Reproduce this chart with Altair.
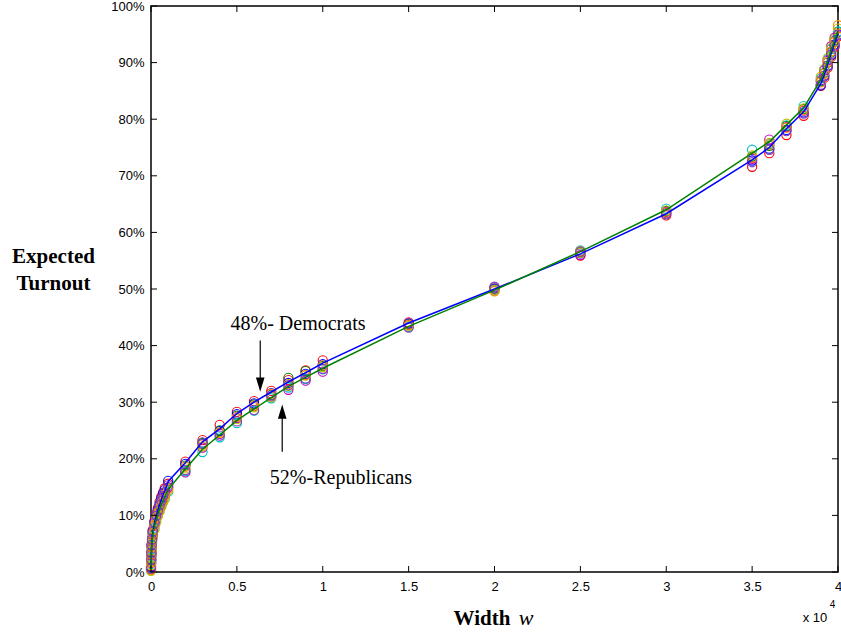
import altair as alt
import pandas as pd

# ---- data (width w in units of 10^4, turnout in %) ----
w_values = [0, 0.001, 0.002, 0.004, 0.006, 0.01, 0.02, 0.03, 0.04, 0.05, 0.06, 0.07, 0.08, 0.1,
            0.2, 0.3, 0.4, 0.5, 0.6, 0.7, 0.8, 0.9, 1.0, 1.5, 2.0, 2.5, 3.0, 3.5, 3.6, 3.7, 3.8,
            3.9, 3.92, 3.94, 3.96, 3.98, 4.0]
dem_turnout = [0.8, 2.0, 3.2, 4.6, 5.6, 7.0, 8.6, 9.8, 10.9, 11.9, 12.8, 13.6, 14.3, 16.0,
               19.3, 23.0, 25.3, 28.0, 30.0, 31.8, 33.6, 35.2, 36.9, 44.0, 50.0, 56.2, 63.3, 72.8,
               75.0, 78.3, 81.3, 86.3, 87.8, 89.7, 91.6, 93.4, 95.2]
rep_turnout = [0.6, 1.7, 2.8, 4.2, 5.2, 6.5, 8.0, 9.2, 10.2, 11.1, 11.9, 12.6, 13.2, 14.6,
               18.2, 21.7, 24.2, 26.8, 28.8, 30.8, 32.8, 34.4, 36.0, 43.4, 49.8, 56.6, 64.0, 74.0,
               76.0, 79.0, 82.0, 87.0, 88.5, 90.3, 92.2, 94.0, 95.6]

run_red = [1.0, 2.3, 3.5, 4.9, 6.0, 7.4, 9.0, 10.3, 11.3, 12.4, 13.3, 14.0, 14.8, 15.6, 19.5, 23.3,
           26.0, 28.3, 30.2, 32.0, 33.9, 35.6, 37.4, 44.1, 49.9, 55.9, 63.0, 71.6, 74.0, 77.2, 80.6,
           85.9, 87.3, 89.1, 91.0, 92.8, 94.6]
run_green = [0.7, 1.9, 3.0, 4.5, 5.4, 6.9, 8.5, 9.6, 10.6, 11.6, 12.4, 13.1, 13.9, 14.9, 18.8, 22.8,
             25.0, 27.6, 29.6, 31.3, 34.3, 35.5, 36.4, 43.8, 50.1, 56.5, 63.8, 73.4, 75.3, 78.8, 81.8,
             86.7, 88.2, 90.0, 91.8, 93.9, 95.4]
run_blue = [0.9, 2.1, 3.3, 4.7, 5.8, 7.2, 8.8, 10.0, 11.0, 12.0, 13.0, 13.8, 14.5, 16.1, 19.1, 22.6,
            24.9, 27.9, 29.8, 31.6, 33.4, 35.0, 36.7, 43.9, 50.0, 56.3, 63.4, 72.7, 74.8, 78.1, 81.2,
            86.0, 87.6, 89.4, 91.3, 93.2, 95.0]
run_cyan = [0.3, 1.4, 2.6, 4.0, 5.0, 6.2, 7.7, 9.0, 10.0, 10.8, 11.7, 12.5, 13.0, 14.2, 17.8, 21.2,
            23.8, 26.3, 28.5, 30.7, 32.6, 34.1, 35.8, 43.3, 49.7, 56.8, 64.2, 74.6, 75.6, 78.9, 82.3,
            87.2, 88.8, 90.6, 92.4, 93.7, 95.5]
run_magenta = [0.5, 1.6, 2.9, 4.3, 5.3, 6.6, 8.2, 9.4, 10.5, 11.4, 12.2, 12.9, 13.6, 15.0, 17.6, 22.0,
               24.4, 27.2, 29.3, 31.0, 32.2, 33.8, 35.4, 43.6, 50.3, 56.0, 63.6, 73.0, 76.4, 78.6, 81.5,
               86.9, 88.6, 90.4, 92.9, 94.4, 94.8]
run_olive = [0.2, 1.2, 2.4, 3.7, 5.0, 6.0, 7.5, 8.8, 9.9, 10.7, 11.5, 12.3, 12.9, 14.4, 18.3, 22.2,
             24.7, 27.0, 29.1, 30.9, 32.9, 34.7, 36.2, 43.5, 49.9, 56.4, 63.9, 73.6, 75.8, 79.2, 81.9,
             87.5, 88.9, 90.8, 92.6, 94.2, 96.0]
run_orange = [0.4, 1.8, 3.1, 4.4, 5.5, 6.8, 8.3, 9.5, 10.4, 11.3, 12.1, 12.8, 13.5, 14.7, 18.6, 22.5,
              24.6, 27.4, 29.4, 31.5, 33.2, 34.8, 36.5, 43.7, 49.6, 56.7, 63.5, 73.2, 75.5, 78.5, 81.6,
              86.5, 88.0, 90.1, 92.0, 93.6, 96.6]
run_purple = [0.6, 2.2, 3.4, 4.8, 5.7, 7.1, 8.7, 9.9, 10.8, 11.8, 12.6, 13.4, 14.1, 15.3, 18.0, 22.9,
              24.1, 26.6, 28.6, 31.2, 33.0, 34.2, 35.9, 43.2, 50.4, 56.6, 63.2, 72.4, 74.6, 77.9, 81.0,
              86.1, 87.7, 89.5, 91.5, 93.0, 94.9]

run_names = ["red", "green", "blue", "cyan", "magenta", "olive", "orange", "purple"]
run_colors = ["#FF0000", "#008000", "#0000FF", "#00BFBF", "#BF00BF", "#BFBF00", "#FF8C00", "#7F3FBF"]
run_series = [run_red, run_green, run_blue, run_cyan, run_magenta, run_olive, run_orange, run_purple]

party_names = ["48%- Democrats", "52%-Republicans"]
party_colors = ["#0000FF", "#008000"]

x_tick_values = [0, 0.5, 1, 1.5, 2, 2.5, 3, 3.5, 4]
y_tick_values = [0, 10, 20, 30, 40, 50, 60, 70, 80, 90, 100]

# ---- tables ----
lines_df = pd.DataFrame(
    [{"w": w, "t": t, "party": party_names[0]} for w, t in zip(w_values, dem_turnout)]
    + [{"w": w, "t": t, "party": party_names[1]} for w, t in zip(w_values, rep_turnout)]
)
runs_df = pd.DataFrame(
    [{"w": w, "t": t, "run": name}
     for name, series in zip(run_names, run_series)
     for w, t in zip(w_values, series)]
)
xt_df = pd.DataFrame({"v": x_tick_values})
yt_df = pd.DataFrame({"v": y_tick_values})

xs = alt.Scale(domain=[0, 4], nice=False, zero=False)
ys = alt.Scale(domain=[0, 100], nice=False, zero=False)

SANS = "Liberation Sans"
SERIF = "Liberation Serif"

x_axis = alt.Axis(
    values=x_tick_values, format=".1~f", ticks=False, domain=False, grid=False,
    labelFlush=False, labelOverlap=False,
    labelFont=SANS, labelFontSize=13, labelColor="black", labelPadding=8, title=None)
y_axis = alt.Axis(
    values=y_tick_values, labelExpr="datum.value + '%'", ticks=False, domain=False, grid=False,
    labelFlush=False, labelOverlap=False,
    labelFont=SANS, labelFontSize=13, labelColor="black", labelPadding=7,
    title=["Expected", "Turnout"], titleAngle=0, titleX=-98, titleY=256,
    titleAlign="center", titleBaseline="alphabetic", titleFont=SERIF, titleFontSize=21,
    titleFontWeight="bold", titleColor="black", titleLineHeight=27)

circles = alt.Chart(runs_df).mark_point(
    shape="circle", filled=False, size=85, strokeWidth=1.1, opacity=1, clip=False
).encode(
    x=alt.X("w:Q", scale=xs, axis=x_axis),
    y=alt.Y("t:Q", scale=ys, axis=y_axis),
    color=alt.Color("run:N", scale=alt.Scale(domain=run_names, range=run_colors), legend=None),
)

lines = alt.Chart(lines_df).mark_line(strokeWidth=1.5).encode(
    x=alt.X("w:Q", scale=xs, axis=x_axis),
    y=alt.Y("t:Q", scale=ys, axis=y_axis),
    color=alt.Color("party:N", scale=alt.Scale(domain=party_names, range=party_colors), legend=None),
)

# inward ticks on all four sides
tick_left = alt.Chart(yt_df).mark_rule(color="black", strokeWidth=1).encode(
    y=alt.Y("v:Q", scale=ys, axis=y_axis), x=alt.value(0), x2=alt.value(6))
tick_right = alt.Chart(yt_df).mark_rule(color="black", strokeWidth=1).encode(
    y=alt.Y("v:Q", scale=ys, axis=y_axis), x=alt.value(681), x2=alt.value(687))
tick_bottom = alt.Chart(xt_df).mark_rule(color="black", strokeWidth=1).encode(
    x=alt.X("v:Q", scale=xs, axis=x_axis), y=alt.value(560), y2=alt.value(566))
tick_top = alt.Chart(xt_df).mark_rule(color="black", strokeWidth=1).encode(
    x=alt.X("v:Q", scale=xs, axis=x_axis), y=alt.value(0), y2=alt.value(6))

# annotations
dem_df = pd.DataFrame({"label": [party_names[0]]})
rep_df = pd.DataFrame({"label": [party_names[1]]})
dem_text = alt.Chart(dem_df).mark_text(
    font=SERIF, fontSize=20, color="black", align="center", baseline="alphabetic"
).encode(x=alt.X(datum=0.856, scale=xs, axis=x_axis), y=alt.Y(datum=42.7, scale=ys, axis=y_axis), text="label:N")
rep_text = alt.Chart(rep_df).mark_text(
    font=SERIF, fontSize=20, color="black", align="center", baseline="alphabetic"
).encode(x=alt.X(datum=1.106, scale=xs, axis=x_axis), y=alt.Y(datum=15.6, scale=ys, axis=y_axis), text="label:N")

dem_shaft = alt.Chart(dem_df).mark_rule(color="black", strokeWidth=1.2).encode(
    x=alt.X(datum=0.636, scale=xs, axis=x_axis), y=alt.Y(datum=40.9, scale=ys, axis=y_axis), y2=alt.Y2(datum=33.5))
dem_head = alt.Chart(dem_df).mark_point(
    shape="M -0.6 -1 L 0.6 -1 L 0 1 Z", filled=True, color="black", size=207, opacity=1
).encode(x=alt.X(datum=0.636, scale=xs, axis=x_axis), y=alt.Y(datum=33.1, scale=ys, axis=y_axis))
rep_shaft = alt.Chart(rep_df).mark_rule(color="black", strokeWidth=1.2).encode(
    x=alt.X(datum=0.764, scale=xs, axis=x_axis), y=alt.Y(datum=21.25, scale=ys, axis=y_axis), y2=alt.Y2(datum=28.0))
rep_head = alt.Chart(rep_df).mark_point(
    shape="M -0.6 1 L 0.6 1 L 0 -1 Z", filled=True, color="black", size=207, opacity=1
).encode(x=alt.X(datum=0.764, scale=xs, axis=x_axis), y=alt.Y(datum=28.33, scale=ys, axis=y_axis))

# x-axis title pieces and exponent
title_df = pd.DataFrame({"a": ["Width"], "b": ["w"], "c": ["x 10"], "d": ["4"]})
x_title = alt.Chart(title_df).mark_text(
    font=SERIF, fontSize=21, fontWeight="bold", color="black", align="center", baseline="alphabetic"
).encode(x=alt.value(331), y=alt.value(619), text="a:N")
x_title_w = alt.Chart(title_df).mark_text(
    font=SERIF, fontSize=22, fontStyle="italic", color="black",
    align="center", baseline="alphabetic"
).encode(x=alt.value(375), y=alt.value(619), text="b:N")
x_exp = alt.Chart(title_df).mark_text(
    font=SANS, fontSize=13, color="black", align="center", baseline="alphabetic"
).encode(x=alt.value(664), y=alt.value(616), text="c:N")
x_exp4 = alt.Chart(title_df).mark_text(
    font=SANS, fontSize=10, color="black", align="center", baseline="alphabetic"
).encode(x=alt.value(681.5), y=alt.value(602), text="d:N")

chart = alt.layer(
    circles, lines,
    tick_left, tick_right, tick_bottom, tick_top,
    dem_shaft, dem_head, rep_shaft, rep_head, dem_text, rep_text,
    x_title, x_title_w, x_exp, x_exp4,
).resolve_scale(color="independent").properties(
    width=687, height=566,
    padding={"left": 151, "top": 6, "right": 3, "bottom": 62},
    autosize="none",
    background="white",
).configure_view(stroke="black", strokeWidth=1.5)

chart.save("out.html", embed_options={"renderer": "svg", "actions": False})
